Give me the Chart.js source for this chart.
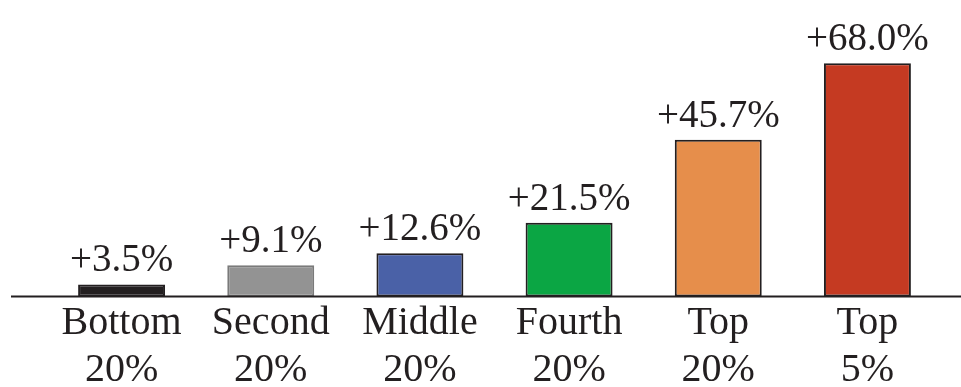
<!DOCTYPE html>
<html>
<head>
<meta charset="utf-8">
<script src="https://cdn.jsdelivr.net/npm/chart.js@4/dist/chart.umd.min.js"></script>
<style>
  html, body { margin: 0; padding: 0; background: #ffffff; }
  #wrap { width: 961px; height: 387px; position: relative; }
</style>
</head>
<body>
<div id="wrap"><canvas id="chart"></canvas></div>
<script>
// Income groups (two-line axis labels)
const categories = [
  ["Bottom", "20%"],
  ["Second", "20%"],
  ["Middle", "20%"],
  ["Fourth", "20%"],
  ["Top", "20%"],
  ["Top", "5%"]
];

// Percentage change per group
const changes = [3.5, 9.1, 12.6, 21.5, 45.7, 68.0];

const barColors   = ["#231f20", "#939393", "#4a61a7", "#0ba644", "#e68e4b", "#c53a22"];
const barBorders  = ["#231f20", "#7a7a7a", "#231f20", "#231f20", "#231f20", "#231f20"];

const INK = "#231f20";
const SERIF = "'Liberation Serif', 'Times New Roman', serif";

// Baseline across the full width plus "+x.x%" labels over each bar
const decorations = {
  id: "decorations",
  afterDatasetsDraw(chart) {
    const ctx = chart.ctx;
    const y0 = chart.scales.y.getPixelForValue(0);
    ctx.save();
    ctx.strokeStyle = INK;
    ctx.lineWidth = 2;
    ctx.beginPath();
    ctx.moveTo(11, y0);
    ctx.lineTo(chart.width, y0);
    ctx.stroke();

    ctx.fillStyle = INK;
    ctx.font = "39px " + SERIF;
    ctx.textAlign = "center";
    ctx.textBaseline = "alphabetic";
    const meta = chart.getDatasetMeta(0);
    meta.data.forEach((bar, i) => {
      const v = chart.data.datasets[0].data[i];
      ctx.fillText("+" + v.toFixed(1) + "%", bar.x, bar.y - 13);
    });
    ctx.restore();
  }
};

new Chart(document.getElementById("chart"), {
  type: "bar",
  data: {
    labels: categories,
    datasets: [{
      data: changes,
      backgroundColor: barColors,
      borderColor: barBorders,
      borderWidth: 2,
      borderSkipped: false,
      barPercentage: 0.583,
      categoryPercentage: 1.0
    }]
  },
  options: {
    responsive: true,
    maintainAspectRatio: false,
    animation: false,
    events: [],
    layout: { padding: { left: 47, right: 19, top: 22, bottom: 0 } },
    plugins: {
      legend: { display: false },
      tooltip: { enabled: false }
    },
    scales: {
      x: {
        grid: { display: false, drawTicks: false },
        border: { display: false },
        ticks: {
          color: INK,
          padding: 3,
          maxRotation: 0,
          autoSkip: false,
          font: { family: SERIF, size: 40, lineHeight: "47px" }
        },
        afterFit(scale) { scale.height = 90.5; }
      },
      y: {
        display: false,
        min: 0,
        max: 80
      }
    }
  },
  plugins: [decorations]
});
</script>
</body>
</html>
